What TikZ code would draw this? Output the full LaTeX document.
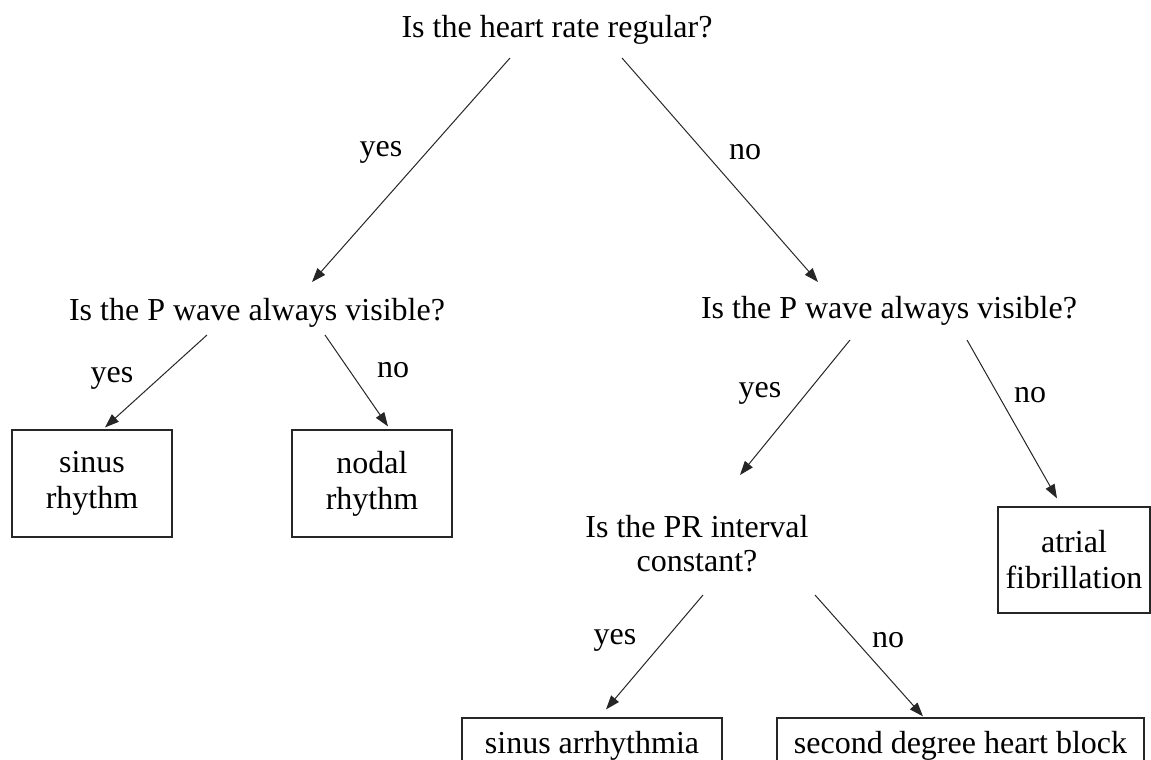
\documentclass[tikz,border=0pt]{standalone}
\usepackage{fontspec}
\setmainfont{Liberation Serif}
\usetikzlibrary{arrows.meta}

\begin{document}
\begin{tikzpicture}[x=1pt, y=-1pt,
  every node/.style={font=\fontsize{32}{36}\selectfont, inner sep=0pt},
  quest/.style={anchor=base, align=center},
  leaf/.style={draw=black!85, line width=1.2pt, align=center},
  arr/.style={-{Triangle[length=14pt,width=10pt]}, line width=1pt, black!85}]
  \useasboundingbox (0,0) rectangle (1151,760);

  % questions
  \node[quest] (root) at (557,38) {Is the heart rate regular?};
  \node[quest] (pl) at (257,320) {Is the P wave always visible?};
  \node[quest] (pr) at (889,318) {Is the P wave always visible?};
  \node[align=center, font=\fontsize{32}{34}\selectfont] (pri) at (697,544) {Is the PR interval\\constant?};

  % answers
  \node[leaf, minimum width=160pt, minimum height=107pt] (sr) at (92,483.5) {sinus\\rhythm};
  \node[leaf, minimum width=160pt, minimum height=107pt] (nr) at (372,483.5) {nodal\\rhythm};
  \node[leaf, minimum width=152pt, minimum height=106pt] (af) at (1074,560) {atrial\\fibrillation};
  \node[leaf, minimum width=260pt, minimum height=55pt] (sa) at (592,745.5) {sinus arrhythmia};
  \node[leaf, minimum width=367pt, minimum height=55pt] (sd) at (960.5,745.5) {second degree heart block};

  % edges
  \draw[arr] ([shift={(-47,20)}]root.base) -- ([shift={(55,-38)}]pl.base);
  \draw[arr] ([shift={(65,20)}]root.base) -- ([shift={(-71,-36)}]pr.base);
  \draw[arr] ([shift={(-50,15)}]pl.base) -- ([shift={(13,-2)}]sr.north);
  \draw[arr] ([shift={(68,15)}]pl.base) -- ([shift={(16,-3)}]nr.north);
  \draw[arr] ([shift={(-39,22)}]pr.base) -- ([shift={(43,-69)}]pri.center);
  \draw[arr] ([shift={(78,22)}]pr.base) -- ([shift={(-17,-8)}]af.north);
  \draw[arr] ([shift={(6,51)}]pri.center) -- ([shift={(14,-8)}]sa.north);
  \draw[arr] ([shift={(118,51)}]pri.center) -- ([shift={(-37.5,-1)}]sd.north);

  % edge labels
  \node (y1) at (381,152) {yes};
  \node (n1) at (745,152) {no};
  \node (y2) at (112,378) {yes};
  \node (n2) at (393,370) {no};
  \node (y3) at (760,393) {yes};
  \node (n3) at (1030,395) {no};
  \node (y4) at (615,640) {yes};
  \node (n4) at (888,640) {no};
\end{tikzpicture}
\end{document}
